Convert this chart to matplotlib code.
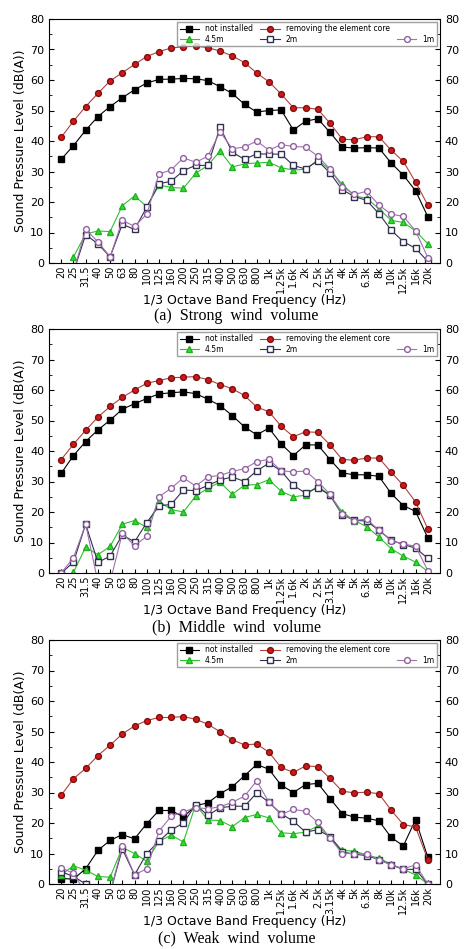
import numpy as np
import matplotlib.pyplot as plt
from matplotlib.lines import Line2D

nan = np.nan
bands = ["20", "25", "31.5", "40", "50", "63", "80", "100", "125", "160", "200", "250",
         "315", "400", "500", "630", "800", "1k", "1.25k", "1.6k", "2k", "2.5k", "3.15k",
         "4k", "5k", "6.3k", "8k", "10k", "12.5k", "16k", "20k"]

# (a) strong wind volume
a_none = [34, 38.5, 43.5, 48, 51.3, 54.2, 56.8, 59, 60.2, 60.3, 60.5, 60.4, 59.8, 57.8, 55.6, 52,
          49.5, 50, 50.2, 43.6, 46.5, 47.3, 42.8, 38, 37.7, 37.8, 37.7, 32.8, 28.8, 23.7, 15.2]
a_core = [41.2, 46.5, 51.3, 55.6, 59.7, 62.4, 65.1, 67.7, 69.3, 70.5, 70.9, 71.1, 70.6, 69.5, 67.9,
          65.7, 62.3, 59.4, 55.4, 50.9, 50.9, 50.4, 45.8, 40.6, 40.4, 41.4, 41.4, 37, 33.3, 26.5, 19]
a_45 = [nan, 2, 9.5, 10.5, 10.3, 18.8, 22, 18.5, 25.5, 24.8, 24.5, 29.4, 32, 36.7, 31.5, 32.5, 32.8,
        33, 31.2, 30.5, 30.7, 33.8, 30.5, 25.8, 22, 21.2, 17.8, 14, 13.3, 10.5, 6.3]
a_2 = [nan, -3, 9.3, 6.3, 2, 12.7, 11, 18.3, 26, 26.8, 30.3, 32, 32, 44.5, 36.3, 34, 35.8, 35.7,
       35.7, 32, 30.8, 33.5, 29.5, 24, 21.8, 20.5, 16.2, 10.8, 7, 4.8, 0.5]
a_1 = [nan, -3, 11, 7, 2, 14, 12, 16, 29.2, 30.5, 34.5, 33, 35, 43, 37.5, 38, 40, 37, 38.8, 38.2,
       38, 35, 30.8, 25, 22.5, 23.5, 19, 16, 15.3, 10.5, 1.8]

# (b) middle wind volume
b_none = [32.7, 38.5, 43.1, 46.9, 50.1, 53.7, 55.5, 57.2, 58.7, 59.1, 59.4, 58.8, 57, 54.9, 51.6,
          47.9, 45.3, 47.5, 42.3, 38.5, 42, 42, 37.2, 32.8, 32.2, 32.2, 31.7, 26.1, 22.1, 20.2, 11.5]
b_core = [37.2, 42.2, 46.8, 51.1, 54.6, 57.6, 60, 62.2, 63.1, 64, 64.2, 64.4, 63.4, 61.8, 60.4,
          58.2, 54.4, 52.9, 48.1, 44.7, 46.3, 46.1, 42, 37.2, 37, 37.7, 37.7, 33.1, 28.7, 23.3, 14.5]
b_45 = [nan, 0.2, 8.5, 6, 8.7, 16, 17.2, 15, 23.5, 20.8, 20, 25.2, 27.8, 29.8, 25.8, 28.8, 29,
        30.6, 26.8, 25, 25.5, 28.5, 25.5, 20, 17.2, 15.2, 11.8, 8, 5.5, 3.6, 0.5]
b_2 = [0, 3.5, 16, 3.5, 5.5, 12.5, 10.2, 16.5, 22, 22.5, 27.2, 27, 28.7, 30.5, 31.5, 30, 33.5, 36,
       33.5, 28.7, 26.2, 28, 25.5, 19, 17.3, 17, 14, 10.8, 9.3, 8.2, 4.8]
b_1 = [0, 5, 16, -3, -3, 13, 9, 12, 25, 27.8, 31.2, 28.5, 31.5, 32, 33.3, 34.2, 36.5, 37.3, 33.5,
       33.2, 33.4, 30, 25.8, 19.3, 17.2, 17.7, 14, 10.6, 9.5, 8.8, 0.8]

# (c) weak wind volume
c_none = [1.8, 1.6, 5, 11, 14.3, 16.2, 14.8, 19.8, 24.1, 24.1, 22, 25.7, 26.6, 29.6, 31.9, 35.5,
          39.2, 37.6, 32.4, 30, 32.6, 33, 28, 23.1, 21.9, 21.6, 20.7, 15.3, 12.5, 21.1, 8.8]
c_core = [29.1, 34.5, 37.9, 42.1, 45.5, 49.2, 51.8, 53.6, 54.6, 54.6, 54.9, 54, 52.4, 49.9, 47.3,
          45.6, 45.9, 43.2, 38.2, 36.6, 38.7, 38.5, 34.6, 30.4, 29.9, 30.1, 29.6, 24.2, 19.5, 18.7, 8]
c_45 = [3, 6, 4.5, 2.5, 2.2, 12, 10, 7.5, 14, 16, 13.8, 26, 21, 20.8, 18.8, 21.8, 22.8, 21.7, 16.8,
        16.5, 17, 19, 15.5, 11, 10.8, 9.5, 8.5, 6.5, 4.8, 3, 0]
c_2 = [4, 2.5, 0, -3, -3, 11.5, 3, 10, 14, 17.7, 20, 26, 22.5, 25, 25.5, 25.5, 29.8, 26.8, 23,
       20.6, 17, 17.8, 15.5, 10.5, 9.8, 9.3, 8, 6.3, 4.8, 4.8, 0]
c_1 = [5.3, 3.5, -3, -3, -3, 12.5, 3, 5, 17.3, 22.2, 23.7, 25, 24.7, 25.3, 26.8, 28.8, 33.8, 26.8,
       22.8, 24.5, 23.8, 20.2, 15, 10, 10, 9.8, 7.9, 6.3, 5, 6.3, 0]

panels = [
    ("(a)  Strong  wind  volume", [a_none, a_core, a_45, a_2, a_1]),
    ("(b)  Middle  wind  volume", [b_none, b_core, b_45, b_2, b_1]),
    ("(c)  Weak  wind  volume", [c_none, c_core, c_45, c_2, c_1]),
]
labels = ["not installed", "removing the element core", "4.5m", "2m", "1m"]
styles = [
    dict(color="black", marker="s", mfc="black", mec="black", ms=3.8),
    dict(color="#b04040", marker="o", mfc="#d01818", mec="#801010", ms=4.2),
    dict(color="#30c030", marker="^", mfc="#30e030", mec="#20b020", ms=4.2),
    dict(color="#303050", marker="s", mfc="white", mec="#303050", ms=3.8),
    dict(color="#a070b0", marker="o", mfc="white", mec="#9060a0", ms=4.2),
]

fig = plt.figure(figsize=(4.73, 9.49), dpi=100)
H = 949.0
tops = [19, 329, 640]
caps = [316, 627, 938]
x = np.arange(len(bands))
for (title, series), top, cap in zip(panels, tops, caps):
    ax = fig.add_axes([49 / 473, 1 - (top + 244) / H, 391 / 473, 244 / H])
    h = []
    for ys, lab, st in zip(series, labels, styles):
        h += ax.plot(x, ys, lw=0.8, label=lab, **st)
    ax.set_xlim(-1, len(bands))
    ax.set_ylim(0, 80)
    ax.set_yticks(range(0, 81, 10))
    ax.set_yticks(range(0, 81, 5), minor=True)
    ax.set_xticks(x)
    ax.set_xticklabels(bands, rotation=90, fontsize=7)
    ax.tick_params(axis="y", labelsize=8, right=True, labelright=True, which="both",
                   direction="in")
    ax.tick_params(axis="x", direction="in", length=3, pad=2)
    ax.set_ylabel("Sound Pressure Level (dB(A))", fontsize=9, labelpad=2)
    ax.set_xlabel("1/3 Octave Band Frequency (Hz)", fontsize=9, labelpad=1)
    blank = Line2D([], [], lw=0)
    ax.legend([h[0], h[2], h[1], h[3], blank, h[4]],
              [labels[0], labels[2], labels[1], labels[3], "", labels[4]],
              loc="upper right", ncol=3, fontsize=5.5, frameon=True, fancybox=False,
              edgecolor="#888888", borderpad=0.3, labelspacing=0.2, columnspacing=1.0,
              handlelength=2.5, borderaxespad=0.4)
    fig.text(0.5, 1 - cap / H, title, ha="center", va="center", fontsize=11.5,
             family="Liberation Serif")

fig.savefig("out.png")
